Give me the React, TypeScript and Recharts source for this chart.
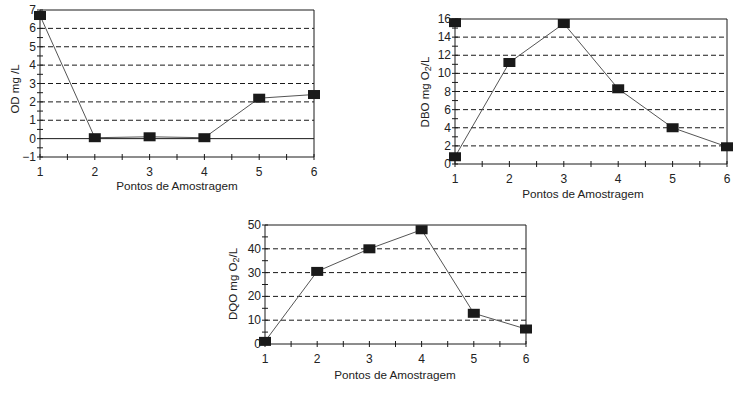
import React from 'react'
import { LineChart, Line, XAxis, YAxis, ReferenceLine } from 'recharts'

// sampling points (x axis)
const pontos = [1, 2, 3, 4, 5, 6]
const xTicks = [1, 1.5, 2, 2.5, 3, 3.5, 4, 4.5, 5, 5.5, 6]
const xLabels = [1, 2, 3, 4, 5, 6]

// OD mg/L
const odValues = [6.7, 0.05, 0.1, 0.05, 2.2, 2.4]
const odTicks = [-1, -0.5, 0, 0.5, 1, 1.5, 2, 2.5, 3, 3.5, 4, 4.5, 5, 5.5, 6, 6.5, 7]
const odLabels = [-1, 0, 1, 2, 3, 4, 5, 6, 7]
const odDashed = [1, 2, 3, 4, 5, 6]
const odSolid = [0, 7]

// DBO mg O2/L
const dboValues = [0.8, 11.2, 15.5, 8.3, 4.0, 1.9]
const dboStray = [15.6, null, null, null, null, null]
const dboTicks = [0, 1, 2, 3, 4, 5, 6, 7, 8, 9, 10, 11, 12, 13, 14, 15, 16]
const dboLabels = [0, 2, 4, 6, 8, 10, 12, 14, 16]
const dboDashed = [2, 4, 6, 8, 10, 12, 14]
const dboSolid = [16]

// DQO mg O2/L
const dqoValues = [1.1, 30.5, 40, 48, 12.9, 6.3]
const dqoTicks = [0, 5, 10, 15, 20, 25, 30, 35, 40, 45, 50]
const dqoLabels = [0, 10, 20, 30, 40, 50]
const dqoDashed = [10, 20, 30, 40]
const dqoSolid = [50]

const font = '"Liberation Sans", Arial, sans-serif'
const ink = '#1a1a1a'

const fmt = (v: number) => (v < 0 ? `\u2212${Math.abs(v)}` : String(v))

const makeYTick = (labels: number[]) => (props: any) => {
  const { x, y, payload } = props
  const v = payload.value
  return (
    <g>
      <line x1={x - 3} x2={x + 3} y1={y} y2={y} stroke={ink} />
      {labels.includes(v) && (
        <text x={x - 4} y={y} dy={4} textAnchor="end" fontSize={12} fontFamily={font} fill="#222">
          {fmt(v)}
        </text>
      )}
    </g>
  )
}

const xTick = (props: any) => {
  const { x, y, payload } = props
  const v = payload.value
  return (
    <g>
      <line x1={x} x2={x} y1={y - 3} y2={y + 3} stroke={ink} />
      {xLabels.includes(v) && (
        <text x={x} y={y + 19} textAnchor="middle" fontSize={12} fontFamily={font} fill="#222">
          {v}
        </text>
      )}
    </g>
  )
}

const squareDot = (props: any) => {
  const { cx, cy, index } = props
  if (cx == null || cy == null || props.value == null) return <g key={index} />
  return <rect key={index} x={cx - 6} y={cy - 4.5} width={12} height={9} fill={ink} />
}

interface PanelProps {
  left: number
  top: number
  width: number
  height: number
  margin: { top: number; right: number; left: number; bottom: number }
  values: number[]
  stray?: (number | null)[]
  yDomain: [number, number]
  yTicks: number[]
  yLabels: number[]
  dashed: number[]
  solid: number[]
  yTitle: React.ReactNode
  yTitlePos: [number, number]
  xTitlePos: [number, number]
}

function Panel(p: PanelProps) {
  const data = pontos.map((ponto, i) => ({
    ponto,
    v: p.values[i],
    s: p.stray ? p.stray[i] : null,
  }))
  return (
    <div style={{ position: 'absolute', left: p.left, top: p.top }}>
      <LineChart width={p.width} height={p.height} data={data} margin={p.margin}>
        <XAxis
          dataKey="ponto"
          type="number"
          domain={[1, 6]}
          ticks={xTicks}
          interval={0}
          tick={xTick}
          tickSize={0}
          tickMargin={0}
          height={20}
          stroke={ink}
          label={{
            content: () => (
              <text x={p.xTitlePos[0]} y={p.xTitlePos[1]} textAnchor="middle" dominantBaseline="central" fontSize={11.7} fontFamily={font} fill="#222">
                Pontos de Amostragem
              </text>
            ),
          }}
        />
        <YAxis
          type="number"
          domain={p.yDomain}
          ticks={p.yTicks}
          interval={0}
          tick={makeYTick(p.yLabels)}
          tickSize={0}
          tickMargin={0}
          width={30}
          stroke={ink}
          label={{
            content: () => (
              <text
                x={p.yTitlePos[0]}
                y={p.yTitlePos[1]}
                transform={`rotate(-90 ${p.yTitlePos[0]} ${p.yTitlePos[1]})`}
                textAnchor="middle"
                dominantBaseline="central"
                fontSize={11.5}
                fontFamily={font}
                fill="#222"
              >
                {p.yTitle}
              </text>
            ),
          }}
        />
        {p.dashed.map(v => (
          <ReferenceLine key={`d${v}`} y={v} stroke={ink} strokeDasharray="5 3" />
        ))}
        {p.solid.map(v => (
          <ReferenceLine key={`s${v}`} y={v} stroke={ink} />
        ))}
        <ReferenceLine x={6} stroke={ink} />
        <Line type="linear" dataKey="v" stroke="#555" strokeWidth={1} dot={squareDot} activeDot={false} isAnimationActive={false} />
        {p.stray && (
          <Line type="linear" dataKey="s" stroke="none" dot={squareDot} activeDot={false} isAnimationActive={false} />
        )}
      </LineChart>
    </div>
  )
}

const sub = (head: string) => (
  <>
    <tspan>{head}</tspan>
    <tspan dy={3} fontSize={9}>2</tspan>
    <tspan dy={-3}>/L</tspan>
  </>
)

export default function App() {
  return (
    <div style={{ position: 'absolute', left: 0, top: 0, width: 747, height: 393, background: '#fff' }}>
      <Panel
        left={0}
        top={0}
        width={330}
        height={200}
        margin={{ top: 10, right: 16, left: 10, bottom: 23 }}
        values={odValues}
        yDomain={[-1, 7]}
        yTicks={odTicks}
        yLabels={odLabels}
        dashed={odDashed}
        solid={odSolid}
        yTitle="OD mg /L"
        yTitlePos={[15, 89]}
        xTitlePos={[177, 185]}
      />
      <Panel
        left={410}
        top={0}
        width={337}
        height={205}
        margin={{ top: 19, right: 20, left: 15, bottom: 21 }}
        values={dboValues}
        stray={dboStray}
        yDomain={[0, 16]}
        yTicks={dboTicks}
        yLabels={dboLabels}
        dashed={dboDashed}
        solid={dboSolid}
        yTitle={sub('DBO mg O')}
        yTitlePos={[15, 92]}
        xTitlePos={[173, 193]}
      />
      <Panel
        left={215}
        top={215}
        width={330}
        height={178}
        margin={{ top: 10, right: 19, left: 20, bottom: 29 }}
        values={dqoValues}
        yDomain={[0, 50]}
        yTicks={dqoTicks}
        yLabels={dqoLabels}
        dashed={dqoDashed}
        solid={dqoSolid}
        yTitle={sub('DQO mg O')}
        yTitlePos={[18, 69]}
        xTitlePos={[180, 159]}
      />
    </div>
  )
}
